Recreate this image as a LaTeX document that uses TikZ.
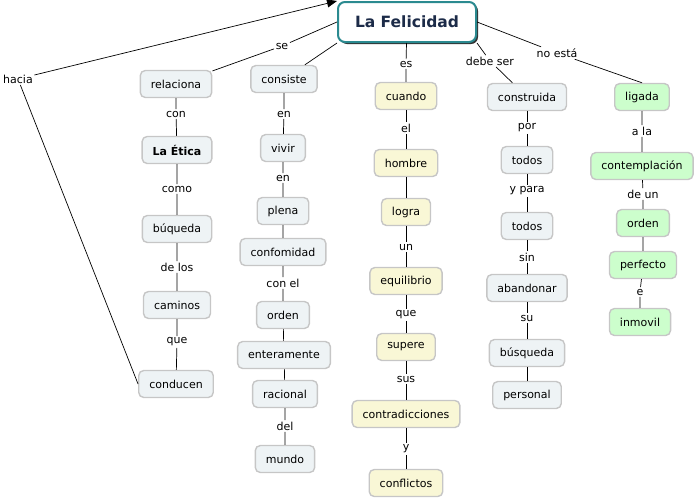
\documentclass[tikz,border=0pt]{standalone}
\usepackage{fontspec}
\setmainfont{DejaVu Sans}
\usepackage{xcolor}
\usetikzlibrary{arrows.meta, positioning, shadows}

\definecolor{boxgray}{HTML}{EEF3F5}
\definecolor{boxyel}{HTML}{F9F7D6}
\definecolor{boxgrn}{HTML}{CCFECC}
\definecolor{edgegray}{HTML}{C6C6C6}
\definecolor{mainedge}{HTML}{2B8A90}
\definecolor{maintext}{HTML}{1C2B48}

\begin{document}
\begin{tikzpicture}[x=1pt, y=-1pt,
    cbox/.style={rectangle, rounded corners=5pt, draw=edgegray, line width=1.4pt,
      fill=boxgray, minimum height=27pt, inner xsep=10.5pt,
      font=\fontsize{11}{13}\selectfont},
    ybox/.style={cbox, fill=boxyel},
    gbox/.style={cbox, fill=boxgrn},
    lbl/.style={inner sep=1.5pt, font=\fontsize{11}{13}\selectfont},
    link/.style={line width=0.7pt}]
  \useasboundingbox (0,0) rectangle (696,499);

  % main concept
  \node[rectangle, rounded corners=7pt, draw=mainedge, line width=2pt, fill=white,
    minimum width=138pt, minimum height=40pt, text=maintext,
    font=\fontsize{15.5}{18}\selectfont\bfseries,
    drop shadow={shadow xshift=2pt, shadow yshift=-2pt, fill=black!80, opacity=1}]
    (root) at (407,22) {La Felicidad};

  % linking phrases off the main concept
  \node[lbl] (hacia) at (18,79) {hacia};
  \node[lbl] (se) at (282,46) {se};
  \node[lbl] (es) at (406,64) {es};
  \node[lbl] (debe) at (490,61) {debe ser};
  \node[lbl] (noesta) at (557,53) {no está};

  % column 1
  \node[cbox] (relaciona) at (176,84) {relaciona};
  \node[lbl] (con1) at (176,114) {con};
  \node[cbox, font=\fontsize{11}{13}\selectfont\bfseries] (etica) at (177,150) {La Ética};
  \node[lbl] (como) at (177,189) {como};
  \node[cbox] (buqueda) at (177,229) {búqueda};
  \node[lbl] (delos) at (177,267) {de los};
  \node[cbox] (caminos) at (177,305) {caminos};
  \node[lbl] (que1) at (177,342) {que};
  \node[cbox] (conducen) at (176,384) {conducen};

  % column 2
  \node[cbox] (consiste) at (284,79) {consiste};
  \node[lbl] (en1) at (284,114) {en};
  \node[cbox] (vivir) at (283,148) {vivir};
  \node[lbl] (en2) at (283,178) {en};
  \node[cbox] (plena) at (283,211) {plena};
  \node[cbox] (confomidad) at (283,252) {confomidad};
  \node[lbl] (conel) at (283,283) {con el};
  \node[cbox] (orden1) at (283,315) {orden};
  \node[cbox] (enteramente) at (284,355) {enteramente};
  \node[cbox] (racional) at (285,394) {racional};
  \node[lbl] (del) at (285,426) {del};
  \node[cbox] (mundo) at (285,459) {mundo};

  % column 3
  \node[ybox] (cuando) at (406,96) {cuando};
  \node[lbl] (el) at (406,128) {el};
  \node[ybox] (hombre) at (406,163) {hombre};
  \node[ybox] (logra) at (406,212) {logra};
  \node[lbl] (un) at (406,247) {un};
  \node[ybox] (equilibrio) at (406,281) {equilibrio};
  \node[lbl] (que2) at (406,315) {que};
  \node[ybox] (supere) at (406,347) {supere};
  \node[lbl] (sus) at (406,379) {sus};
  \node[ybox] (contradicciones) at (406,414) {contradicciones};
  \node[lbl] (y) at (406,449) {y};
  \node[ybox] (conflictos) at (406,483) {conflictos};

  % column 4
  \node[cbox] (construida) at (527,97) {construida};
  \node[lbl] (por) at (527,128) {por};
  \node[cbox] (todos1) at (527,160) {todos};
  \node[lbl] (ypara) at (527,191) {y para};
  \node[cbox] (todos2) at (527,226) {todos};
  \node[lbl] (sin) at (527,257) {sin};
  \node[cbox] (abandonar) at (527,288) {abandonar};
  \node[lbl] (su) at (527,318) {su};
  \node[cbox] (busqueda) at (527,353) {búsqueda};
  \node[cbox] (personal) at (527,395) {personal};

  % column 5
  \node[gbox] (ligada) at (642,97) {ligada};
  \node[lbl] (ala) at (642,131) {a la};
  \node[gbox] (contemplacion) at (642,166) {contemplación};
  \node[lbl] (deun) at (643,194) {de un};
  \node[gbox] (orden2) at (643,223) {orden};
  \node[gbox] (perfecto) at (643,265) {perfecto};
  \node[lbl] (e) at (640,292) {e};
  \node[gbox] (inmovil) at (640,322) {inmovil};

  % links
  \draw[link, -{Triangle[length=10pt, width=8pt]}] (hacia) -- (root.north west);
  \draw[link] (conducen.west) -- (hacia);
  \draw[link] (root.west) -- (se) -- (relaciona);
  \draw[link] (root.south west) -- (consiste);
  \draw[link] (root) -- (es) -- (cuando);
  \draw[link] (root.south east) -- (debe) -- (construida);
  \draw[link] (root.east) -- (noesta) -- (ligada.north);

  \draw[link] (relaciona) -- (con1) -- (etica) -- (como) -- (buqueda) -- (delos)
    -- (caminos) -- (que1) -- (conducen);
  \draw[link] (consiste) -- (en1) -- (vivir) -- (en2) -- (plena) -- (confomidad)
    -- (conel) -- (orden1) -- (enteramente) -- (racional) -- (del) -- (mundo);
  \draw[link] (cuando) -- (el) -- (hombre) -- (logra) -- (un) -- (equilibrio)
    -- (que2) -- (supere) -- (sus) -- (contradicciones) -- (y) -- (conflictos);
  \draw[link] (construida) -- (por) -- (todos1) -- (ypara) -- (todos2) -- (sin)
    -- (abandonar) -- (su) -- (busqueda) -- (personal);
  \draw[link] (ligada) -- (ala) -- (contemplacion) -- (deun) -- (orden2)
    -- (perfecto) -- (e) -- (inmovil);
\end{tikzpicture}
\end{document}
